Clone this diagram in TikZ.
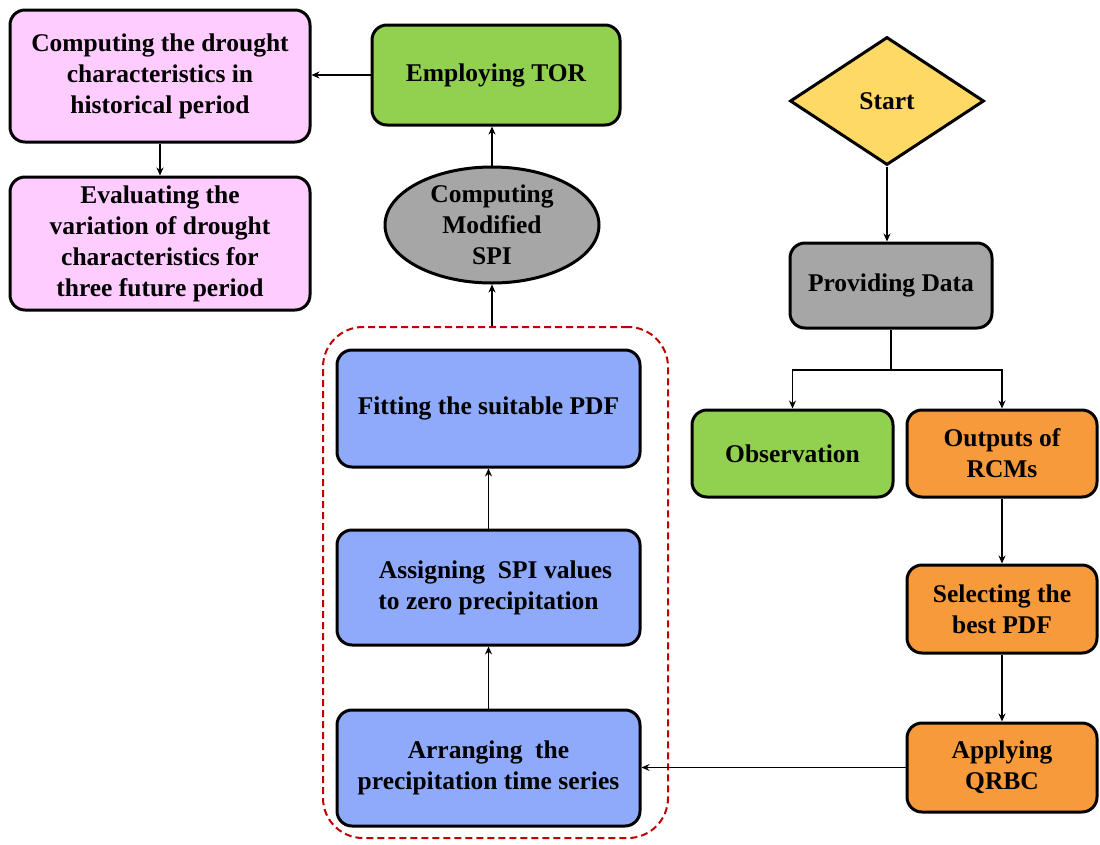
\documentclass[tikz,border=0pt]{standalone}
\usepackage{fontspec}
\setmainfont{Liberation Serif}
\usetikzlibrary{shapes.geometric,arrows.meta}
\definecolor{pinkc}{HTML}{FFCCFF}
\definecolor{greenc}{HTML}{92D050}
\definecolor{grayc}{HTML}{A6A6A6}
\definecolor{yellowc}{HTML}{FFD966}
\definecolor{orangec}{HTML}{F79A3C}
\definecolor{bluec}{HTML}{8FAAFA}
\definecolor{redc}{HTML}{C00000}
\tikzset{
  box/.style={draw=black, line width=3pt, rounded corners=15pt, align=center, inner sep=2pt},
  arr/.style={line width=1.8pt, -{Stealth[length=8pt,width=7pt]}},
  ln/.style={line width=1.8pt},
}
\begin{document}
\begin{tikzpicture}[x=1pt,y=-1pt, font=\bfseries\fontsize{25.5}{31}\selectfont]
\useasboundingbox (0,0) rectangle (1100,844);
% nodes
\node[box, fill=pinkc, minimum width=300pt, minimum height=132pt] (hist) at (160,76) {Computing the drought\\characteristics in\\historical period};
\node[box, fill=pinkc, minimum width=300pt, minimum height=133pt] (fut) at (160,243.5) {Evaluating the\\variation of drought\\characteristics for\\three future period};
\node[box, fill=greenc, minimum width=248pt, minimum height=100pt] (tor) at (496,75) {Employing TOR};
\node[ellipse, draw=black, line width=3pt, fill=grayc, minimum width=214pt, minimum height=116pt, align=center, inner sep=0pt] (spi) at (492,225) {Computing\\Modified\\SPI};
\node[diamond, draw=black, line width=3pt, fill=yellowc, minimum width=194pt, minimum height=128pt, inner sep=0pt] (start) at (887,101) {Start};
\node[box, fill=grayc, minimum width=202pt, minimum height=85pt] (prov) at (891,285.5) {Providing Data};
\node[box, fill=greenc, minimum width=201pt, minimum height=87pt] (obs) at (792.5,453.5) {Observation};
\node[box, fill=orangec, minimum width=190pt, minimum height=87pt] (rcm) at (1002,453.5) {Outputs of\\RCMs};
\node[box, fill=orangec, minimum width=190pt, minimum height=88pt] (sel) at (1002,609) {Selecting the\\best PDF};
\node[box, fill=orangec, minimum width=190pt, minimum height=89pt] (app) at (1002,767.5) {Applying\\QRBC};
\node[box, fill=bluec, minimum width=303pt, minimum height=117pt] (fit) at (488.5,408.5) {Fitting the suitable PDF};
\node[box, fill=bluec, minimum width=303pt, minimum height=115pt] (asg) at (488.5,587.5) {\hspace{14pt}Assigning\ \ SPI values\\to zero precipitation};
\node[box, fill=bluec, minimum width=303pt, minimum height=116pt] (arng) at (488.5,768) {Arranging\ \ the\\precipitation time series};
\node[draw=redc, line width=2pt, dashed, dash pattern=on 7pt off 4pt, rounded corners=40pt, minimum width=345pt, minimum height=511pt] (grp) at (495.5,582.5) {};
% connectors
\draw[arr] (tor.west) -- (tor.west -| hist.east);
\draw[arr] (hist.south) -- (fut.north);
\draw[arr] (spi.north) -- (spi.north |- tor.south);
\draw[arr] (spi.south |- grp.north) -- (spi.south);
\draw[arr] (start.south) -- (start.south |- prov.north);
\coordinate (split) at (891,370);
\draw[ln] (prov.south) -- (split);
\draw[arr] (split) -| (obs.north);
\draw[arr] (split) -| (rcm.north);
\draw[arr] (rcm.south) -- (sel.north);
\draw[arr] (sel.south) -- (app.north);
\draw[arr] (app.west) -- (app.west -| arng.east);
\draw[arr] (arng.north) -- (asg.south);
\draw[arr] (asg.north) -- (fit.south);
\end{tikzpicture}
\end{document}
